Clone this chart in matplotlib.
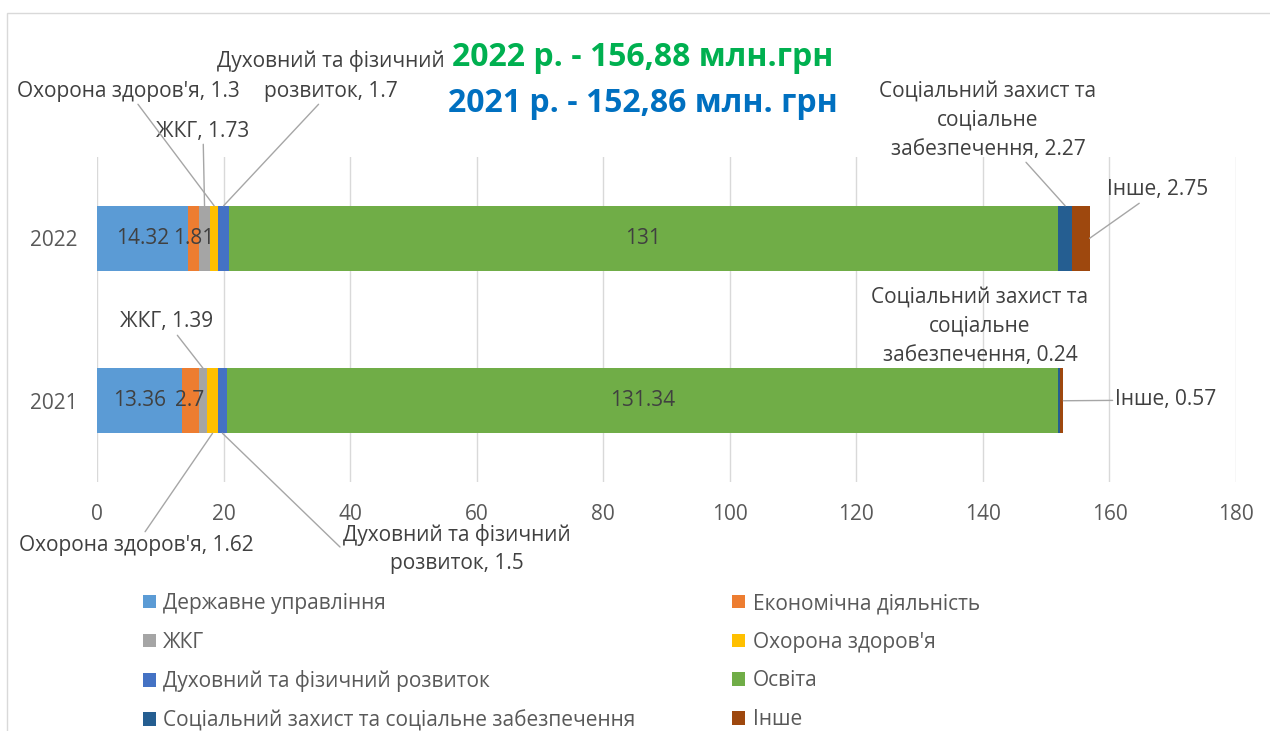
import matplotlib
matplotlib.use('Agg')
import matplotlib.pyplot as plt
from matplotlib.patches import Rectangle
import numpy as np

plt.rcParams['font.family'] = ['Open Sans', 'DejaVu Sans']

# дані
years = ['2021', '2022']
categories = ['Державне управління', 'Економічна діяльність', 'ЖКГ', "Охорона здоров'я",
              'Духовний та фізичний розвиток', 'Освіта',
              'Соціальний захист та соціальне забезпечення', 'Інше']
values_2021 = [13.36, 2.7, 1.39, 1.62, 1.5, 131.34, 0.24, 0.57]
values_2022 = [14.32, 1.81, 1.73, 1.3, 1.7, 131, 2.27, 2.75]
colors = ['#5B9BD5', '#ED7D31', '#A5A5A5', '#FFC000', '#4472C4', '#70AD47', '#255E91', '#9E480E']
x_ticks = [0, 20, 40, 60, 80, 100, 120, 140, 160, 180]
title_2022 = '2022 р. - 156,88 млн.грн'
title_2021 = '2021 р. - 152,86 млн. грн'

W, H = 1270, 731
fig = plt.figure(figsize=(W / 100, H / 100), dpi=100)
ax = fig.add_axes([97 / W, 1 - 482 / H, (1236 - 97) / W, (482 - 157) / H])

# рамка області діаграми
fig.patches.append(Rectangle((7 / W, -0.1), 1.2, 1 - 13 / H + 0.1, transform=fig.transFigure,
                             fill=False, edgecolor='#D9D9D9', lw=1))

data = np.array([values_2021, values_2022])
ypos = np.arange(len(years))
left = np.zeros(len(years))
for i, name in enumerate(categories):
    ax.barh(ypos, data[:, i], left=left, height=0.4, color=colors[i], label=name, zorder=3)
    left += data[:, i]

starts = np.cumsum(data, axis=1) - data
mids = starts + data / 2
totals = data.sum(axis=1)

txt = '#404040'
fs = 15
# підписи всередині
for r in range(len(years)):
    for i in (0, 1, 5):
        ax.text(mids[r, i], ypos[r], f'{data[r, i]:g}', ha='center', va='center',
                fontsize=fs, color=txt, zorder=4)

line = dict(arrowstyle='-', color='#A6A6A6', lw=1, shrinkA=0, shrinkB=0)
bar_top = 0.2


def callout(r, i, text, px, py, yoff=bar_top, x=None, arrow=True):
    xx = mids[r, i] if x is None else x
    ax.annotate(text, xy=(xx, ypos[r] + yoff), xycoords='data',
                xytext=(px, H - py), textcoords='figure pixels',
                ha='center', va='center', multialignment='center', linespacing=1.5,
                fontsize=fs, color=txt, arrowprops=line if arrow else None, zorder=5)


def label(text, px, py):
    fig.text(px / W, 1 - py / H, text, ha='center', va='center', fontsize=fs, color=txt)


# 2022
callout(1, 2, f'ЖКГ, {values_2022[2]:g}', 203, 131)
callout(1, 3, f"Охорона здоров'я, {values_2022[3]:g}", 128, 91)
label('Духовний та фізичний', 331, 61)
callout(1, 4, f'розвиток, {values_2022[4]:g}', 331, 91)
callout(1, 6, f'Соціальний захист та\nсоціальне\nзабезпечення, {values_2022[6]:g}', 988, 120)
callout(1, 7, f'Інше, {values_2022[7]:g}', 1158, 190, yoff=0, x=totals[1])
# 2021
callout(0, 2, f'ЖКГ, {values_2021[2]:g}', 167, 322)
callout(0, 3, f"Охорона здоров'я, {values_2021[3]:g}", 136, 545, yoff=-bar_top)
label('Духовний та фізичний', 457, 535)
label(f'розвиток, {values_2021[4]:g}', 457, 563)
callout(0, 4, '', 340, 547, yoff=-bar_top)
callout(0, 6, f'Соціальний захист та\nсоціальне\nзабезпечення, {values_2021[6]:g}', 980, 326,
        arrow=False)
callout(0, 7, f'Інше, {values_2021[7]:g}', 1166, 400, yoff=0, x=totals[0])

# заголовки
fig.text(643 / W, 1 - 58 / H, title_2022, ha='center', va='center', fontsize=23,
         fontweight='bold', color='#00B050')
fig.text(643 / W, 1 - 103 / H, title_2021, ha='center', va='center', fontsize=23,
         fontweight='bold', color='#0070C0')

ax.set_xlim(0, 180)
ax.set_ylim(-0.5, 1.5)
ax.set_xticks(x_ticks)
ax.set_yticks(ypos)
ax.set_yticklabels(years)
ax.tick_params(length=0, labelsize=fs, colors='#595959', pad=14)
ax.tick_params(axis='x', pad=16)
ax.grid(axis='x', color='#D9D9D9', lw=1, zorder=0)
for s in ax.spines.values():
    s.set_visible(False)

h, l = ax.get_legend_handles_labels()
order = [0, 2, 4, 6, 1, 3, 5, 7]
fig.legend([h[k] for k in order], [l[k] for k in order], ncol=2, loc='upper left',
           bbox_to_anchor=(143 / W, 1 - 593 / H), frameon=False, fontsize=fs,
           labelcolor='#595959', handlelength=0.62, handleheight=0.62, handletextpad=0.35,
           columnspacing=4.65, labelspacing=0.85, borderaxespad=0, borderpad=0)

fig.savefig('out.png', dpi=100)
